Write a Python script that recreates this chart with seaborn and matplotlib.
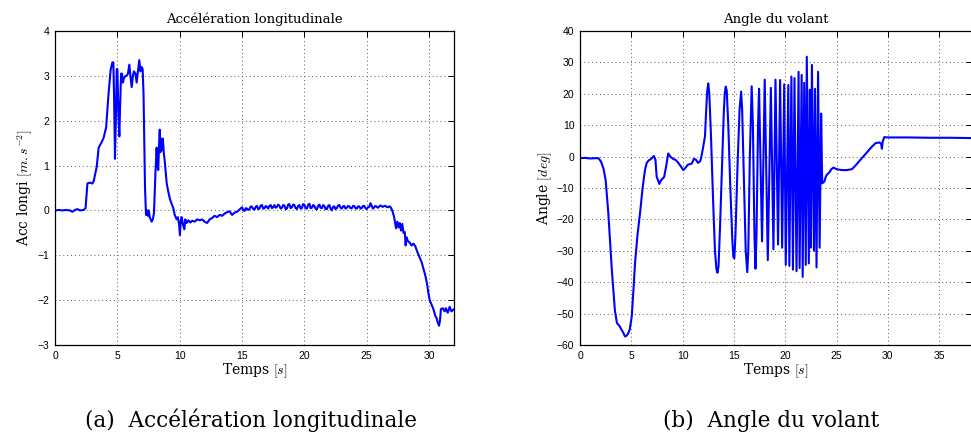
import numpy as np
import pandas as pd
import seaborn as sns
import matplotlib
matplotlib.use("Agg")
import matplotlib.pyplot as plt

# Accélération longitudinale
acc_t = [0.0, 0.3, 0.6, 0.9, 1.2, 1.4, 1.6, 1.8, 2.0, 2.3, 2.45, 2.6, 2.8, 3.0, 3.1,
         3.35, 3.5, 3.7, 3.9, 4.1, 4.28, 4.46, 4.6, 4.68, 4.74, 4.81, 4.88, 4.95, 5.0,
         5.08, 5.16, 5.22, 5.3, 5.37, 5.45, 5.53, 5.65, 5.75, 5.85, 5.96, 6.05, 6.15,
         6.25, 6.33, 6.45, 6.55, 6.65, 6.76, 6.85, 6.93, 7.03, 7.1, 7.16, 7.22, 7.3,
         7.38, 7.45, 7.52, 7.6, 7.75, 7.85, 7.94, 8.05, 8.15, 8.22, 8.28, 8.35, 8.4,
         8.46, 8.52, 8.58, 8.65, 8.72, 8.8, 8.96, 9.1, 9.22, 9.35, 9.49, 9.6, 9.76,
         9.85, 9.95, 10.02, 10.08, 10.16, 10.25, 10.37, 10.45, 10.55, 10.7, 10.85,
         11.0, 11.2, 11.4, 11.6, 11.8, 12.0, 12.2, 12.4, 12.6, 12.8, 13.0, 13.2, 13.4,
         13.6, 13.8, 14.0, 14.2, 14.4, 14.6, 14.8,
         15.0, 15.1, 15.2, 15.3, 15.4, 15.5, 15.6, 15.7, 15.8, 15.9,
         16.0, 16.1, 16.2, 16.3, 16.4, 16.5, 16.6, 16.7, 16.8, 16.9,
         17.0, 17.1, 17.2, 17.3, 17.4, 17.5, 17.6, 17.7, 17.8, 17.9,
         18.0, 18.1, 18.2, 18.3, 18.4, 18.5, 18.6, 18.7, 18.8, 18.9,
         19.0, 19.1, 19.2, 19.3, 19.4, 19.5, 19.6, 19.7, 19.8, 19.9,
         20.0, 20.1, 20.2, 20.3, 20.4, 20.5, 20.6, 20.7, 20.8, 20.9,
         21.0, 21.1, 21.2, 21.3, 21.4, 21.5, 21.6, 21.7, 21.8, 21.9,
         22.0, 22.1, 22.2, 22.3, 22.4, 22.5, 22.6, 22.7, 22.8, 22.9,
         23.0, 23.1, 23.2, 23.3, 23.4, 23.5, 23.6, 23.7, 23.8, 23.9,
         24.0, 24.1, 24.2, 24.3, 24.4, 24.5, 24.6, 24.7, 24.8, 24.9,
         25.0, 25.1, 25.2, 25.3, 25.4, 25.5, 25.6, 25.7, 25.8, 25.9,
         26.0, 26.1, 26.2, 26.3, 26.4, 26.5, 26.6, 26.7, 26.8, 26.9,
         27.05, 27.2, 27.35, 27.45, 27.55, 27.65, 27.75, 27.85,
         27.95, 28.05, 28.12, 28.2, 28.3, 28.45, 28.6, 28.75, 28.9, 29.05, 29.2, 29.4,
         29.55, 29.7, 29.85, 29.95, 30.05, 30.2, 30.35, 30.5, 30.6, 30.7, 30.8, 30.88,
         30.95, 31.1, 31.25, 31.35, 31.5, 31.65, 31.8, 32.0]
acc_v = [0.0, 0.01, 0.0, 0.01, 0.0, -0.03, 0.01, 0.03, 0.0, 0.01, 0.05, 0.6, 0.62, 0.6, 0.65,
         0.98, 1.4, 1.5, 1.62, 1.85, 2.55, 3.13, 3.3, 3.3, 2.5, 1.15, 2.0, 3.15, 3.15,
         2.2, 1.65, 2.3, 3.05, 3.05, 2.85, 2.95, 3.0, 3.0, 3.05, 3.25, 3.0, 2.75,
         3.0, 3.1, 3.05, 2.85, 3.1, 3.35, 3.1, 3.2, 3.15, 2.6, 1.5, 0.5, -0.1,
         0.0, -0.12, 0.0, -0.15, -0.25, -0.2, -0.05, 0.8, 1.4, 1.0, 0.9, 1.5, 1.8,
         1.3, 1.6, 1.35, 1.6, 1.3, 1.1, 0.6, 0.4, 0.25, 0.15, 0.05, -0.1, -0.2,
         -0.15, -0.3, -0.55, -0.25, -0.15, -0.3, -0.42, -0.2, -0.28, -0.22, -0.27,
         -0.23, -0.25, -0.2, -0.22, -0.2, -0.25, -0.28, -0.2, -0.17, -0.12, -0.15, -0.1, -0.12,
         -0.07, -0.04, -0.02, -0.1, -0.05, -0.03, 0.02,
         0.07, 0.0, -0.01, 0.05, 0.04, 0.01, 0.03, 0.09, 0.08, 0.03,
         0.02, 0.08, 0.1, 0.03, 0.04, 0.11, 0.12, 0.04, 0.05, 0.1,
         0.08, 0.04, 0.1, 0.12, 0.05, 0.07, 0.12, 0.06, 0.08, 0.13,
         0.1, 0.04, 0.06, 0.12, 0.11, 0.03, 0.04, 0.13, 0.14, 0.05,
         0.07, 0.13, 0.12, 0.05, 0.03, 0.1, 0.12, 0.04, 0.05, 0.14,
         0.13, 0.05, 0.04, 0.12, 0.15, 0.05, 0.06, 0.12, 0.1, 0.04,
         0.02, 0.1, 0.13, 0.06, 0.05, 0.12, 0.1, 0.03, 0.03, 0.1,
         0.12, 0.04, 0.0, 0.08, 0.09, 0.03, 0.05, 0.11, 0.12, 0.06,
         0.04, 0.09, 0.1, 0.04, 0.06, 0.1, 0.09, 0.05, 0.05, 0.1,
         0.1, 0.05, 0.04, 0.09, 0.09, 0.04, 0.05, 0.1, 0.1, 0.05,
         0.03, 0.07, 0.08, 0.16, 0.1, 0.04, 0.07, 0.1, 0.08, 0.06,
         0.09, 0.11, 0.09, 0.08, 0.1, 0.1, 0.08, 0.07, 0.09, 0.08,
         0.0, -0.15, -0.4, -0.25, -0.38, -0.28, -0.45, -0.3,
         -0.5, -0.48, -0.78, -0.6, -0.68, -0.72, -0.78, -0.74, -0.8, -0.92, -1.02, -1.15,
         -1.3, -1.45, -1.65, -1.85, -2.0, -2.1, -2.2, -2.35, -2.4, -2.5, -2.57, -2.45,
         -2.2, -2.18, -2.25, -2.18, -2.28, -2.15, -2.25, -2.2]

# Angle du volant
ang_t = [0.0, 0.5, 1.0, 1.5, 1.8, 2.05, 2.3, 2.5, 2.76, 3.1, 3.4, 3.6, 3.85, 4.06, 4.2,
         4.39, 4.55, 4.7, 4.85, 5.04, 5.2, 5.36, 5.6, 5.85, 6.1, 6.33, 6.5, 6.7, 6.9,
         7.2, 7.35, 7.47, 7.73, 7.9, 8.2, 8.4, 8.6, 8.8, 9.1, 9.3, 9.58, 9.8, 10.07,
         10.3, 10.5, 10.9, 11.1, 11.3, 11.5, 11.7, 11.8, 12.0, 12.18, 12.3, 12.4, 12.5,
         12.6, 12.75, 12.95, 13.15, 13.3, 13.4, 13.5, 13.65, 13.85, 14.0, 14.1, 14.2,
         14.3, 14.45, 14.65, 14.85, 14.95, 15.04, 15.15, 15.35, 15.55, 15.7, 15.8,
         16.0, 16.15, 16.3, 16.4, 16.55, 16.73, 16.85, 17.0, 17.1, 17.2, 17.35, 17.45,
         17.74, 18.0, 18.3, 18.6, 18.85, 19.05, 19.3, 19.5, 19.7, 19.9, 20.05, 20.3,
         20.4, 20.6, 20.75, 20.9, 21.1, 21.3, 21.4, 21.6, 21.7, 21.85, 22.0, 22.1,
         22.3, 22.4, 22.5, 22.6, 22.8, 22.9, 23.05, 23.2, 23.35, 23.5, 23.6, 23.8,
         24.0, 24.3, 24.5, 24.7, 25.0, 25.5, 26.0, 26.5, 26.8, 27.2, 27.6, 28.0, 28.4,
         28.8, 29.2, 29.35, 29.42, 29.5, 29.65, 30.0, 32.0, 34.0, 36.0, 38.2]
ang_v = [-0.5, -0.4, -0.6, -0.5, -0.5, -1.6, -4.0, -7.5, -18.0, -36.0, -49.0, -53.0, -54.0, -55.2, -56.0,
         -57.3, -57.0, -56.3, -55.0, -51.0, -43.0, -34.0, -25.0, -18.0, -10.0, -4.3, -2.0, -1.2, -0.8,
         0.2, -1.0, -6.4, -8.7, -7.5, -6.5, -3.0, 1.0, 0.0, -0.8, -1.0, -2.0, -3.0, -4.3,
         -3.5, -2.6, -2.2, -0.7, -1.0, -2.0, -1.5, -0.5, 3.0, 6.5, 15.0, 21.0, 23.3,
         20.0, 8.0, -12.0, -30.0, -36.0, -37.0, -35.0, -22.0, -2.0, 13.0, 20.0, 22.3,
         21.0, 10.0, -10.0, -27.0, -32.0, -32.4, -25.0, -3.0, 15.0, 20.7, 15.0,
         -10.0, -30.0, -36.8, -30.0, 0.0, 22.4, 10.0, -25.0, -35.7, -25.0, 10.0, 21.6,
         -27.0, 24.5, -33.0, 21.9, -29.5, 24.5, -28.0, 24.4, -29.0, 23.0, -34.5, 22.8,
         -34.8, 25.5, -36.0, 25.0, -36.5, 27.0, -35.5, 26.0, -38.3, 23.5, -34.5, 31.8,
         -34.0, 21.3, -29.0, 29.2, -30.0, 21.6, -35.3, 27.0, -29.0, 13.7, -8.5, -8.0,
         -6.0, -5.0, -4.0, -3.5, -4.0, -4.3, -4.3, -4.0, -3.0, -1.5, 0.0, 1.5, 3.0,
         4.3, 4.5, 4.0, 2.5, 4.8, 6.2, 6.1, 6.1, 6.0, 6.0, 5.9]

acc_df = pd.DataFrame({"t": acc_t, "v": acc_v})
ang_df = pd.DataFrame({"t": ang_t, "v": ang_v})

sns.set_style("white")
plt.rcParams["font.family"] = ["DejaVu Serif"]
plt.rcParams["mathtext.fontset"] = "cm"
plt.rcParams["text.color"] = "black"
plt.rcParams["axes.labelcolor"] = "black"
plt.rcParams["xtick.color"] = "black"
plt.rcParams["ytick.color"] = "black"

W, H = 971, 437
fig = plt.figure(figsize=(W / 100, H / 100), dpi=100)
ax1 = fig.add_axes([55 / W, (H - 345) / H, 399 / W, 314 / H])
ax2 = fig.add_axes([580 / W, (H - 345) / H, 392 / W, 314 / H])

sns.lineplot(data=acc_df, x="t", y="v", ax=ax1, color="#0000ff", lw=1.5,
             estimator=None, sort=False)
sns.lineplot(data=ang_df, x="t", y="v", ax=ax2, color="#0000ff", lw=1.5,
             estimator=None, sort=False)

ax1.set_xlim(0, 32)
ax1.set_ylim(-3, 4)
ax1.set_xticks(range(0, 31, 5))
ax1.set_yticks(range(-3, 5))
ax2.set_xlim(0, 38.2)
ax2.set_ylim(-60, 40)
ax2.set_xticks(range(0, 36, 5))
ax2.set_yticks(range(-60, 41, 10))

for ax in (ax1, ax2):
    ax.grid(True, linestyle=(0, (1, 3)), color="0.35", lw=0.7)
    ax.tick_params(direction="in", top=True, right=True, length=4, width=0.7,
                   pad=4, labelsize=7.5)
    for lab in ax.get_xticklabels() + ax.get_yticklabels():
        lab.set_family("Liberation Sans")
    for s in ax.spines.values():
        s.set_linewidth(0.9)
        s.set_color("black")
    ax.set_xlabel(r"Temps $[s]$", fontsize=10, labelpad=1)

ax1.set_ylabel(r"Acc longi $[m.s^{-2}]$", fontsize=10, labelpad=2)
ax2.set_ylabel(r"Angle $[deg]$", fontsize=10, labelpad=2)
ax1.set_title("Accélération longitudinale", fontsize=9.5, pad=6)
ax2.set_title("Angle du volant", fontsize=9.5, pad=6)

fig.text(251 / W, (H - 427) / H, "(a)  Accélération longitudinale",
         ha="center", va="baseline", fontsize=15.5)
fig.text(771 / W, (H - 427) / H, "(b)  Angle du volant",
         ha="center", va="baseline", fontsize=15.5)

fig.savefig("out.png", dpi=100)
